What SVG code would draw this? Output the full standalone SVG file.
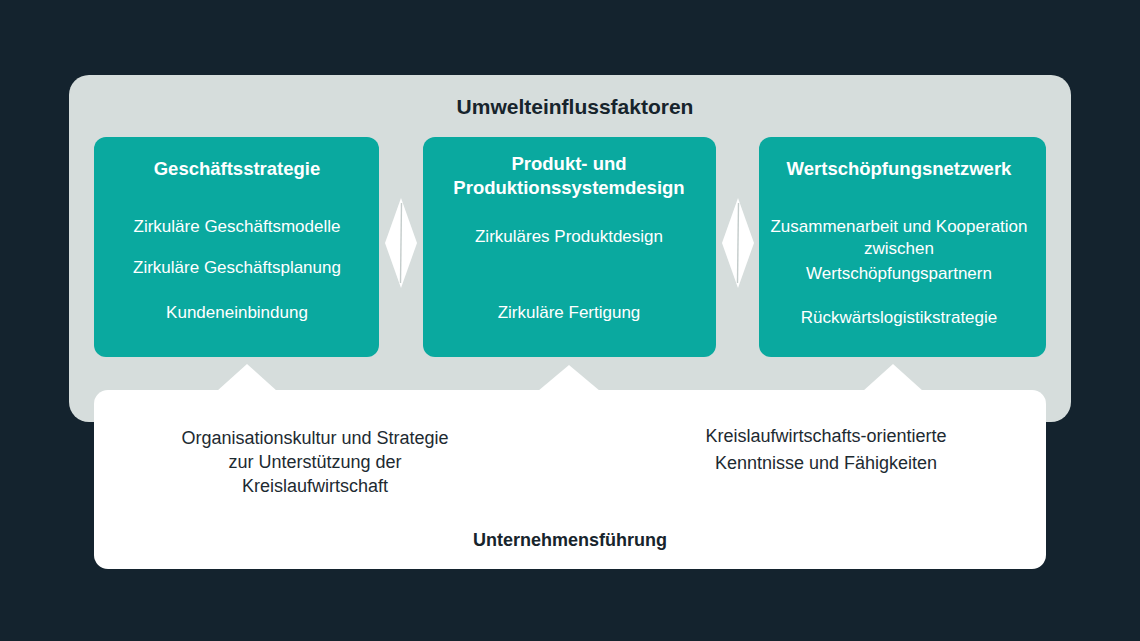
<svg xmlns="http://www.w3.org/2000/svg" width="1140" height="641" viewBox="0 0 1140 641">
<style>
.t{font-family:"Liberation Sans",Arial,sans-serif;text-anchor:middle}
.h{font-weight:bold;fill:#ffffff;font-size:18.5px}
.i{fill:#ffffff;font-size:17px}
.d{fill:#1d2a31;font-size:18px}
.db{fill:#17242c;font-weight:bold}
.box{fill:#0aa99f}
.conn{fill:#ffffff}
.seam{stroke:#c4cccb;stroke-width:1.4;fill:none}
</style>
<rect width="1140" height="641" fill="#14232e"/>
<g id="umwelt">
<rect x="69" y="75" width="1002" height="347" rx="20" fill="#d6dddc"/>
<text class="t db" x="575" y="114" font-size="21">Umwelteinflussfaktoren</text>
</g>
<g id="fuehrung">
<rect x="94" y="390" width="952" height="179" rx="14" fill="#ffffff"/>
<polygon points="217,391 247,364 277,391" fill="#ffffff"/>
<polygon points="538,391 569,365 600,391" fill="#ffffff"/>
<polygon points="863,391 893,364 923,391" fill="#ffffff"/>
<text class="t d" x="315" y="444">Organisationskultur und Strategie</text>
<text class="t d" x="315" y="468">zur Unterstützung der</text>
<text class="t d" x="315" y="492">Kreislaufwirtschaft</text>
<text class="t d" x="826" y="442">Kreislaufwirtschafts-orientierte</text>
<text class="t d" x="826" y="469">Kenntnisse und Fähigkeiten</text>
<text class="t db" x="570" y="546" font-size="18">Unternehmensführung</text>
</g>
<g id="geschaeftsstrategie">
<rect class="box" x="94" y="137" width="285" height="220" rx="12"/>
<text class="t h" x="237" y="175">Geschäftsstrategie</text>
<text class="t i" x="237" y="232">Zirkuläre Geschäftsmodelle</text>
<text class="t i" x="237" y="273">Zirkuläre Geschäftsplanung</text>
<text class="t i" x="237" y="318">Kundeneinbindung</text>
</g>
<g id="produktdesign">
<rect class="box" x="423" y="137" width="293" height="220" rx="12"/>
<text class="t h" x="569" y="170">Produkt- und</text>
<text class="t h" x="569" y="194">Produktionssystemdesign</text>
<text class="t i" x="569" y="242">Zirkuläres Produktdesign</text>
<text class="t i" x="569" y="318">Zirkuläre Fertigung</text>
</g>
<g id="wertschoepfung">
<rect class="box" x="759" y="137" width="287" height="220" rx="12"/>
<text class="t h" x="899" y="175">Wertschöpfungsnetzwerk</text>
<text class="t i" x="899" y="232">Zusammenarbeit und Kooperation</text>
<text class="t i" x="899" y="254">zwischen</text>
<text class="t i" x="899" y="279">Wertschöpfungspartnern</text>
<text class="t i" x="899" y="323">Rückwärtslogistikstrategie</text>
</g>
<g id="connectors">
<polygon class="conn" points="401,198 417,243 401,288 385,243"/>
<path class="seam" d="M401.5,203 L400.5,283"/>
<polygon class="conn" points="738,198 754,243 738,288 722,243"/>
<path class="seam" d="M738.5,203 L737.5,283"/>
</g>
</svg>
